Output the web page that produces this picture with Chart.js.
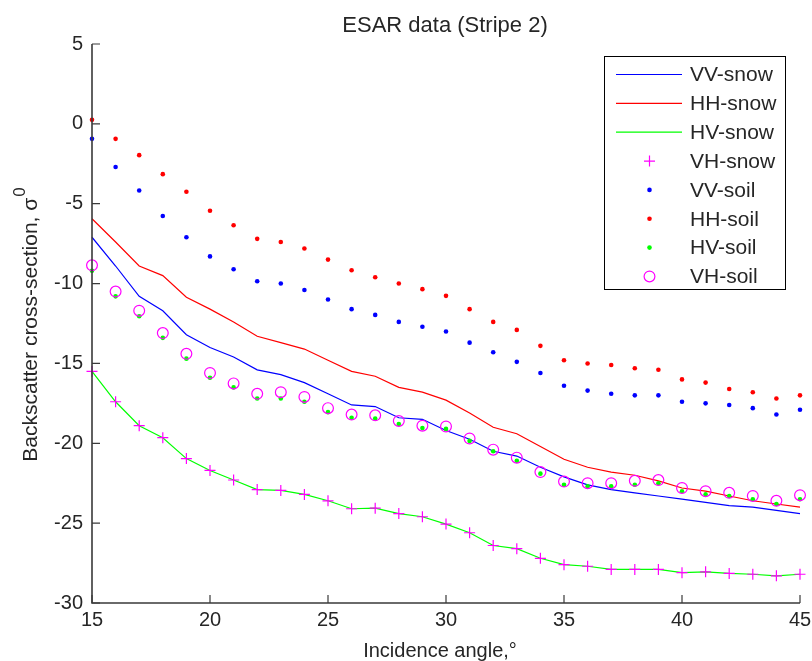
<!DOCTYPE html>
<html>
<head>
<meta charset="utf-8">
<script src="https://cdn.jsdelivr.net/npm/chart.js@4/dist/chart.umd.min.js"></script>
<style>
html,body{margin:0;padding:0;background:#fff;}
#wrap{width:812px;height:661px;}
</style>
</head>
<body>
<div id="wrap"><canvas id="c" width="812" height="661"></canvas></div>
<script>
// ---- data ----
const angles = [15,16,17,18,19,20,21,22,23,24,25,26,27,28,29,30,31,32,33,34,35,36,37,38,39,40,41,42,43,44,45];
const vvSnow = [-7.1,-8.9,-10.8,-11.7,-13.2,-14.0,-14.6,-15.4,-15.7,-16.2,-16.9,-17.6,-17.7,-18.4,-18.5,-19.2,-19.75,-20.5,-20.8,-21.5,-22.1,-22.6,-22.9,-23.1,-23.3,-23.5,-23.7,-23.9,-24.0,-24.2,-24.4];
const hhSnow = [-5.94,-7.4,-8.9,-9.5,-10.86,-11.6,-12.4,-13.3,-13.7,-14.1,-14.8,-15.5,-15.8,-16.5,-16.8,-17.3,-18.1,-19.0,-19.4,-20.2,-21.0,-21.5,-21.8,-22.0,-22.35,-22.8,-23.0,-23.3,-23.6,-23.8,-24.0];
const hvSnow = [-15.5,-17.4,-18.9,-19.65,-20.96,-21.7,-22.3,-22.9,-22.95,-23.2,-23.6,-24.1,-24.06,-24.4,-24.6,-25.06,-25.6,-26.4,-26.6,-27.2,-27.6,-27.7,-27.9,-27.9,-27.9,-28.1,-28.05,-28.15,-28.2,-28.3,-28.2];
const vhSnow = [-15.5,-17.4,-18.9,-19.65,-20.96,-21.7,-22.3,-22.9,-22.95,-23.2,-23.6,-24.1,-24.06,-24.4,-24.6,-25.06,-25.6,-26.4,-26.6,-27.2,-27.6,-27.7,-27.9,-27.9,-27.9,-28.1,-28.05,-28.15,-28.2,-28.3,-28.2];
const vvSoil = [-0.94,-2.7,-4.17,-5.77,-7.1,-8.3,-9.1,-9.85,-10.0,-10.4,-11.0,-11.6,-11.96,-12.4,-12.7,-13.0,-13.7,-14.3,-14.9,-15.6,-16.4,-16.7,-16.9,-17.0,-17.0,-17.4,-17.5,-17.6,-17.8,-18.2,-17.9];
const hhSoil = [0.25,-0.94,-1.96,-3.15,-4.25,-5.44,-6.35,-7.2,-7.4,-7.8,-8.5,-9.17,-9.6,-10.0,-10.35,-10.77,-11.6,-12.4,-12.9,-13.9,-14.8,-15.0,-15.1,-15.3,-15.4,-16.0,-16.2,-16.6,-16.8,-17.2,-17.0];
const hvSoil = [-9.2,-10.8,-12.05,-13.4,-14.7,-15.9,-16.5,-17.2,-17.2,-17.4,-18.05,-18.4,-18.45,-18.8,-19.05,-19.1,-19.85,-20.5,-21.1,-21.9,-22.6,-22.7,-22.7,-22.6,-22.5,-23.0,-23.2,-23.3,-23.5,-23.8,-23.5];
const vhSoil = [-8.86,-10.5,-11.7,-13.1,-14.4,-15.6,-16.25,-16.9,-16.8,-17.1,-17.8,-18.2,-18.25,-18.6,-18.9,-18.95,-19.7,-20.4,-20.9,-21.8,-22.4,-22.5,-22.5,-22.35,-22.3,-22.8,-23.0,-23.1,-23.3,-23.6,-23.25];
const seriesNames = ['VV-snow','HH-snow','HV-snow','VH-snow','VV-soil','HH-soil','HV-soil','VH-soil'];
const chartTitle = 'ESAR data (Stripe 2)';
const xTitle = 'Incidence angle,\u00B0';
const yTitle = 'Backscatter cross-section, \u03C3';
const yTitleSup = '0';
const xTickValues = [15,20,25,30,35,40,45];
const yTickValues = [-30,-25,-20,-15,-10,-5,0,5];

const FONT = '"Liberation Sans", Arial, Helvetica, sans-serif';
const TXT = '#262626';
const BLUE = '#0000ff', RED = '#ff0000', GREEN = '#00ff00', MAG = '#ff00ff';

const pts = arr => angles.map((a, i) => ({x: a, y: arr[i]}));

const styles = [
  {kind:'line', color:BLUE},
  {kind:'line', color:RED},
  {kind:'line', color:GREEN},
  {kind:'cross', color:MAG},
  {kind:'dot', color:BLUE},
  {kind:'dot', color:RED},
  {kind:'dot', color:GREEN},
  {kind:'ring', color:MAG}
];
const values = [vvSnow, hhSnow, hvSnow, vhSnow, vvSoil, hhSoil, hvSoil, vhSoil];

const datasets = values.map((v, i) => {
  const s = styles[i];
  const base = {label: seriesNames[i], data: pts(v), clip: false, order: values.length - i};
  if (s.kind === 'line') return Object.assign(base, {showLine:true, borderColor:s.color, borderWidth:1.2, pointRadius:0, tension:0, fill:false});
  if (s.kind === 'cross') return Object.assign(base, {showLine:false, pointStyle:'cross', pointRadius:5.5, borderColor:s.color, borderWidth:1.2, backgroundColor:s.color});
  if (s.kind === 'dot') return Object.assign(base, {showLine:false, pointStyle:'circle', pointRadius:2.3, borderWidth:0, backgroundColor:s.color, borderColor:s.color});
  return Object.assign(base, {showLine:false, pointStyle:'circle', pointRadius:5.4, borderWidth:1.2, borderColor:s.color, backgroundColor:'rgba(0,0,0,0)'});
});

const matlabPlugin = {
  id: 'matlab',
  afterDatasetsDraw(chart) {
    const ctx = chart.ctx;
    const {left, right, top, bottom} = chart.chartArea;
    const xs = chart.scales.x, ys = chart.scales.y;
    ctx.save();
    ctx.strokeStyle = '#3a3a3a';
    ctx.lineWidth = 1.6;
    ctx.beginPath();
    ctx.moveTo(left, top); ctx.lineTo(left, bottom); ctx.lineTo(right, bottom);
    ctx.stroke();
    ctx.lineWidth = 1.2;
    ctx.beginPath();
    xTickValues.forEach(t => { const p = xs.getPixelForValue(t); ctx.moveTo(p, bottom); ctx.lineTo(p, bottom - 8); });
    yTickValues.forEach(t => { const p = ys.getPixelForValue(t); ctx.moveTo(left, p); ctx.lineTo(left + 8, p); });
    ctx.stroke();
    ctx.restore();
  },
  afterDraw(chart) {
    const ctx = chart.ctx;
    const {left, right, top, bottom} = chart.chartArea;
    ctx.save();
    ctx.fillStyle = TXT;
    // title
    ctx.font = '22px ' + FONT;
    ctx.textAlign = 'center';
    ctx.textBaseline = 'alphabetic';
    ctx.fillText(chartTitle, 445, 31.5);
    // x title
    ctx.font = '20px ' + FONT;
    ctx.fillText(xTitle, 440, 657);
    // y title
    ctx.save();
    ctx.translate(37, (top + bottom) / 2 + 1);
    ctx.rotate(-Math.PI / 2);
    ctx.font = '21px ' + FONT;
    const w = ctx.measureText(yTitle).width;
    ctx.font = '17px ' + FONT;
    const ws = ctx.measureText(yTitleSup).width;
    const total = w + 1 + ws;
    ctx.textAlign = 'left';
    ctx.font = '21px ' + FONT;
    ctx.fillText(yTitle, -total / 2, 0);
    ctx.font = '17px ' + FONT;
    ctx.fillText(yTitleSup, -total / 2 + w + 1, -12);
    ctx.restore();
    // legend
    const bx = 604.5, by = 56.5, bw = 181, bh = 233;
    ctx.fillStyle = '#fff';
    ctx.fillRect(bx, by, bw, bh);
    ctx.strokeStyle = '#000';
    ctx.lineWidth = 1;
    ctx.strokeRect(bx, by, bw, bh);
    ctx.font = '21px ' + FONT;
    ctx.textAlign = 'left';
    ctx.textBaseline = 'middle';
    seriesNames.forEach((name, i) => {
      const yy = 74.5 + i * 28.85;
      const s = styles[i];
      const mx = 649.5;
      ctx.strokeStyle = s.color;
      ctx.fillStyle = s.color;
      if (s.kind === 'line') {
        ctx.lineWidth = 1.2;
        ctx.beginPath(); ctx.moveTo(616, yy); ctx.lineTo(682, yy); ctx.stroke();
      } else if (s.kind === 'cross') {
        ctx.lineWidth = 1.2;
        ctx.beginPath(); ctx.moveTo(mx - 5.5, yy); ctx.lineTo(mx + 5.5, yy); ctx.moveTo(mx, yy - 5.5); ctx.lineTo(mx, yy + 5.5); ctx.stroke();
      } else if (s.kind === 'dot') {
        ctx.beginPath(); ctx.arc(mx, yy, 2.3, 0, Math.PI * 2); ctx.fill();
      } else {
        ctx.lineWidth = 1.2;
        ctx.beginPath(); ctx.arc(mx, yy, 5.4, 0, Math.PI * 2); ctx.stroke();
      }
      ctx.fillStyle = TXT;
      ctx.fillText(name, 690, yy + 1);
    });
    ctx.restore();
  }
};

new Chart(document.getElementById('c'), {
  type: 'scatter',
  data: {datasets},
  options: {
    responsive: false,
    animation: false,
    events: [],
    layout: {padding: {left: 0, top: 44, right: 12, bottom: 0}},
    plugins: {legend: {display: false}, title: {display: false}, tooltip: {enabled: false}},
    scales: {
      x: {
        type: 'linear', position: 'bottom', min: 15, max: 45,
        grid: {display: false, drawTicks: false}, border: {display: false},
        ticks: {stepSize: 5, autoSkip: false, maxRotation: 0, padding: 5, color: TXT, font: {family: FONT, size: 20}},
        afterFit(s) { s.height = 58; s.paddingLeft = 0; s.paddingRight = 0; }
      },
      y: {
        type: 'linear', position: 'left', min: -30, max: 5,
        grid: {display: false, drawTicks: false}, border: {display: false},
        ticks: {stepSize: 5, autoSkip: false, padding: 9, color: TXT, font: {family: FONT, size: 20}},
        afterFit(s) { s.width = 92; s.paddingTop = 0; s.paddingBottom = 0; }
      }
    }
  },
  plugins: [matlabPlugin]
});
</script>
</body>
</html>
